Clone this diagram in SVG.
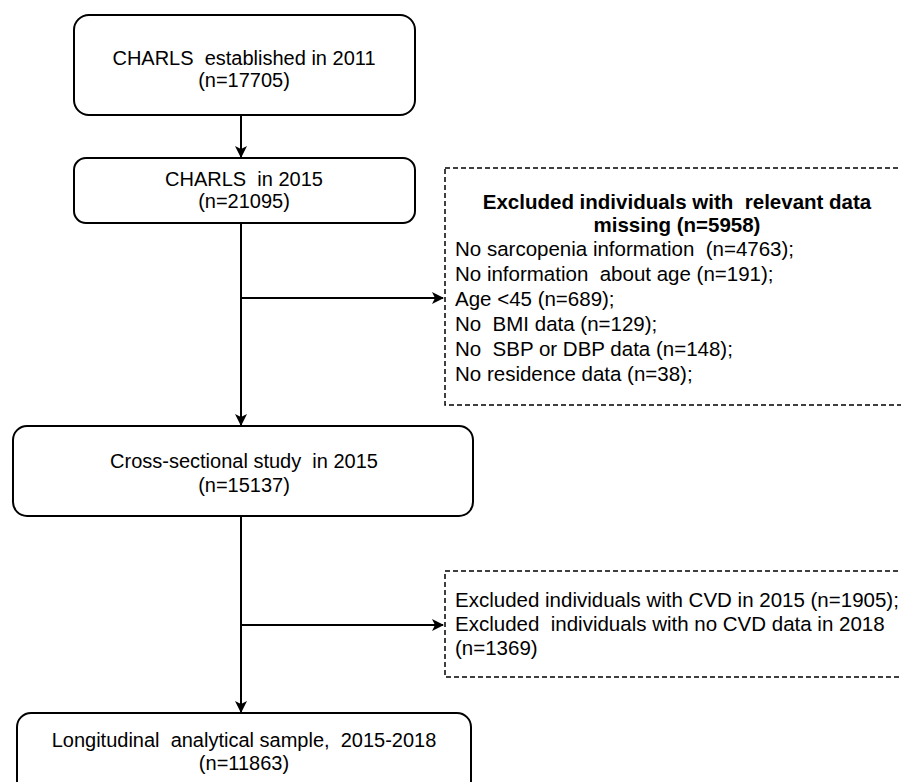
<svg xmlns="http://www.w3.org/2000/svg" width="901" height="782" viewBox="0 0 901 782">
<defs>
<marker id="ah" viewBox="0 0 12 12" refX="11" refY="6" markerWidth="12" markerHeight="12" markerUnits="userSpaceOnUse" orient="auto">
<path d="M0,0 L12,6 L0,12 L3,6 Z" fill="#000"/>
</marker>
<style>
.box{fill:#fff;stroke:#000;stroke-width:2}
.dbox{fill:#fff;stroke:#000;stroke-width:1.5;stroke-dasharray:5 3}
.t{font-family:"Liberation Sans",Arial,sans-serif;font-size:20px;fill:#000;white-space:pre}
.r{font-size:20.5px}
.c{text-anchor:middle}
.b{font-weight:bold}
.ln{fill:none;stroke:#000;stroke-width:2}
</style>
</defs>
<rect width="901" height="782" fill="#fff"/>
<g id="connectors">
<line class="ln" x1="241" y1="115" x2="241" y2="157" marker-end="url(#ah)"/>
<line class="ln" x1="241" y1="223" x2="241" y2="425" marker-end="url(#ah)"/>
<line class="ln" x1="241" y1="298" x2="443" y2="298" marker-end="url(#ah)"/>
<line class="ln" x1="241" y1="516" x2="241" y2="712" marker-end="url(#ah)"/>
<line class="ln" x1="241" y1="625" x2="443" y2="625" marker-end="url(#ah)"/>
</g>
<g id="n1">
<rect class="box" x="74" y="15" width="341" height="100" rx="15"/>
<text class="t c" x="244" y="65" xml:space="preserve">CHARLS  established in 2011</text>
<text class="t c" x="244" y="87">(n=17705)</text>
</g>
<g id="n2">
<rect class="box" x="74" y="158" width="341" height="65" rx="12"/>
<text class="t c" x="244" y="186" xml:space="preserve">CHARLS  in 2015</text>
<text class="t c" x="244" y="208">(n=21095)</text>
</g>
<g id="n3">
<rect class="box" x="13" y="426" width="460" height="90" rx="14"/>
<text class="t c" x="244" y="468" xml:space="preserve">Cross-sectional study  in 2015</text>
<text class="t c" x="244" y="492">(n=15137)</text>
</g>
<g id="n4">
<rect class="box" x="17" y="713" width="454" height="90" rx="14"/>
<text class="t c" x="244" y="747" xml:space="preserve">Longitudinal  analytical sample,  2015-2018</text>
<text class="t c" x="244" y="770">(n=11863)</text>
</g>
<g id="ex1">
<rect class="dbox" x="445" y="168" width="470" height="237"/>
<text class="t r c b" x="677" y="209" xml:space="preserve">Excluded individuals with  relevant data</text>
<text class="t r c b" x="677" y="232">missing (n=5958)</text>
<text class="t r" x="455" y="256" xml:space="preserve">No sarcopenia information  (n=4763);</text>
<text class="t r" x="455" y="281" xml:space="preserve">No information  about age (n=191);</text>
<text class="t r" x="455" y="306">Age &lt;45 (n=689);</text>
<text class="t r" x="455" y="331" xml:space="preserve">No  BMI data (n=129);</text>
<text class="t r" x="455" y="356" xml:space="preserve">No  SBP or DBP data (n=148);</text>
<text class="t r" x="455" y="381">No residence data (n=38);</text>
</g>
<g id="ex2">
<rect class="dbox" x="445" y="571" width="470" height="106"/>
<text class="t r" x="455" y="607">Excluded individuals with CVD in 2015 (n=1905);</text>
<text class="t r" x="455" y="631" xml:space="preserve">Excluded  individuals with no CVD data in 2018</text>
<text class="t r" x="455" y="655">(n=1369)</text>
</g>
</svg>
